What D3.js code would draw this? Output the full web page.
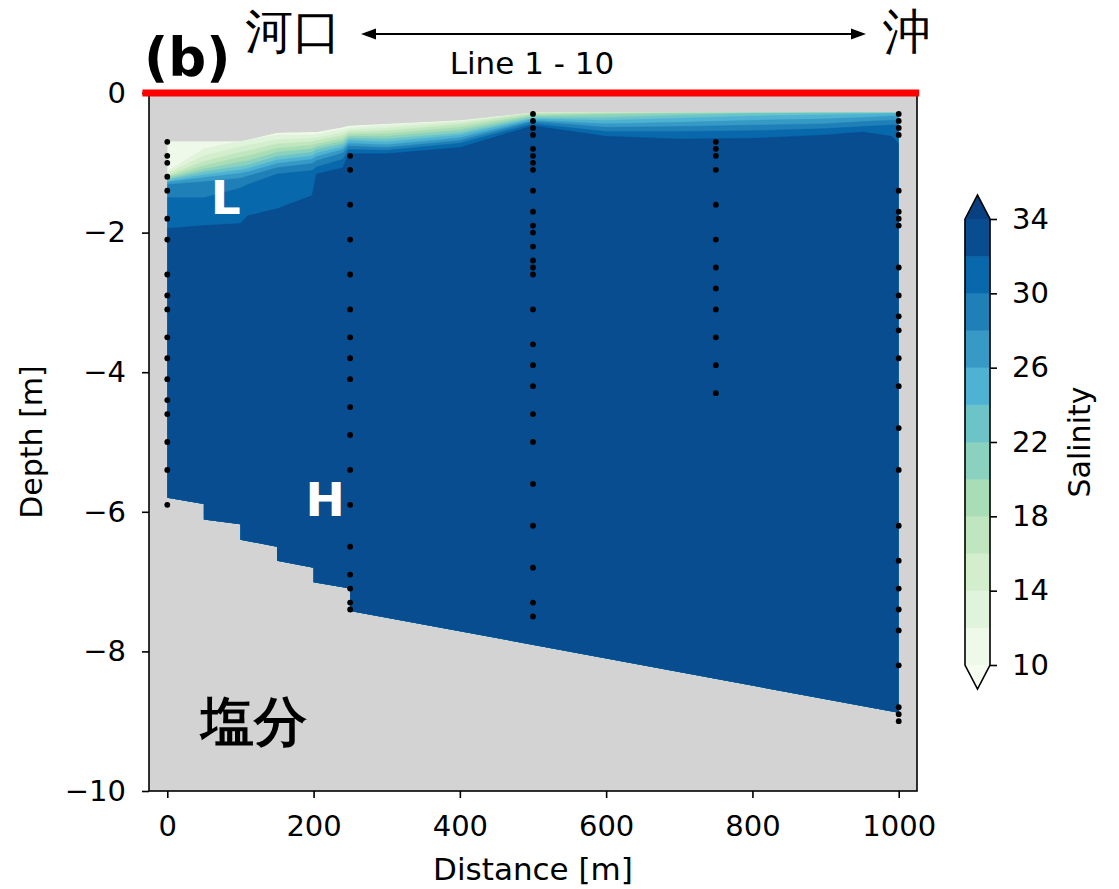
<!DOCTYPE html>
<html>
<head>
<meta charset="utf-8">
<script src="https://cdn.jsdelivr.net/npm/d3@7"></script>
<style>
  body { margin: 0; background: #fff; }
  svg { display: block; }
  text { font-family: "DejaVu Sans", sans-serif; }
</style>
</head>
<body>
<svg id="chart" width="1119" height="889"></svg>
<script>
// ---- Survey stations (distance along Line 1 - 10, m) and sampling depths (m) ----
const stationX = [0, 250, 500, 750, 1000];
const depthsAt0 = [-0.7, -0.9, -1.0, -1.2, -1.4, -1.8, -2.1, -2.6, -2.9, -3.1, -3.5, -3.8, -4.1, -4.4, -4.6, -5.0, -5.4, -5.9];
const depthsAt250 = [-0.9, -1.1, -1.6, -2.1, -2.6, -3.1, -3.5, -3.8, -4.1, -4.5, -4.9, -5.4, -5.9, -6.5, -6.9, -7.1, -7.3, -7.4];
const depthsAt500 = [-0.3, -0.4, -0.5, -0.6, -0.8, -0.9, -1.0, -1.1, -1.4, -1.7, -1.9, -2.0, -2.2, -2.4, -2.5, -2.6, -3.1, -3.6, -3.9, -4.2, -4.6, -5.0, -5.6, -6.2, -6.8, -7.3, -7.5];
const depthsAt750 = [-0.7, -0.8, -0.9, -1.1, -1.6, -2.1, -2.5, -2.8, -3.1, -3.5, -3.9, -4.3];
const depthsAt1000 = [-0.3, -0.4, -0.5, -0.6, -1.4, -1.7, -1.8, -1.9, -2.5, -2.9, -3.2, -3.4, -3.8, -4.2, -4.8, -5.4, -6.2, -6.7, -7.1, -7.4, -7.7, -8.2, -8.8, -8.9, -9.0];

// ---- Gridded salinity section: columns, upper edge and isohaline depths (m) ----
const gridX   = [0, 50, 100, 110, 150, 198, 204, 240, 248, 300, 400, 500, 600, 700, 800, 900, 950, 990, 1000];
const surface = [-0.69, -0.69, -0.69, -0.67, -0.57, -0.56, -0.56, -0.49, -0.47, -0.44, -0.39, -0.28, -0.28, -0.28, -0.28, -0.28, -0.28, -0.28, -0.28];
const iso12 = [-1.12, -0.80, -0.69, -0.67, -0.60, -0.60, -0.59, -0.52, -0.50, -0.46, -0.40, -0.28, -0.28, -0.28, -0.28, -0.28, -0.28, -0.28, -0.28];
const iso14 = [-1.15, -0.90, -0.77, -0.75, -0.67, -0.65, -0.64, -0.57, -0.53, -0.50, -0.42, -0.28, -0.28, -0.28, -0.28, -0.28, -0.28, -0.28, -0.28];
const iso16 = [-1.18, -0.98, -0.85, -0.83, -0.73, -0.70, -0.68, -0.61, -0.56, -0.54, -0.45, -0.29, -0.28, -0.28, -0.28, -0.28, -0.28, -0.28, -0.28];
const iso18 = [-1.20, -1.04, -0.92, -0.90, -0.79, -0.75, -0.73, -0.65, -0.59, -0.58, -0.49, -0.31, -0.29, -0.28, -0.28, -0.28, -0.28, -0.28, -0.28];
const iso20 = [-1.22, -1.09, -0.99, -0.97, -0.85, -0.80, -0.77, -0.69, -0.62, -0.62, -0.53, -0.33, -0.31, -0.29, -0.28, -0.28, -0.28, -0.28, -0.28];
const iso22 = [-1.24, -1.13, -1.05, -1.03, -0.91, -0.85, -0.81, -0.73, -0.65, -0.66, -0.57, -0.35, -0.35, -0.32, -0.29, -0.28, -0.28, -0.28, -0.28];
const iso24 = [-1.26, -1.17, -1.10, -1.08, -0.96, -0.90, -0.86, -0.77, -0.68, -0.70, -0.60, -0.37, -0.39, -0.36, -0.33, -0.31, -0.30, -0.29, -0.29];
const iso26 = [-1.28, -1.21, -1.15, -1.13, -1.01, -0.95, -0.91, -0.81, -0.72, -0.74, -0.64, -0.39, -0.44, -0.42, -0.39, -0.37, -0.35, -0.33, -0.33];
const iso28 = [-1.31, -1.27, -1.22, -1.19, -1.07, -1.01, -0.97, -0.86, -0.76, -0.78, -0.68, -0.41, -0.49, -0.48, -0.46, -0.44, -0.41, -0.39, -0.39];
const iso30 = [-1.50, -1.50, -1.36, -1.31, -1.16, -1.11, -1.06, -0.95, -0.81, -0.82, -0.72, -0.44, -0.55, -0.55, -0.54, -0.51, -0.48, -0.46, -0.46];
const iso32 = [-1.94, -1.90, -1.87, -1.76, -1.66, -1.47, -1.16, -1.07, -0.87, -0.87, -0.78, -0.47, -0.62, -0.66, -0.65, -0.60, -0.56, -0.62, -0.72];

// ---- Bed profile under the section (m) ----
const bedX     = [0, 50, 50, 100, 100, 150, 150, 200, 200, 250, 250, 1000];
const bedDepth = [-5.80, -5.89, -6.11, -6.18, -6.40, -6.50, -6.70, -6.80, -7.01, -7.10, -7.42, -8.88];

// ---- Contour levels, ticks ----
const levels = [10, 12, 14, 16, 18, 20, 22, 24, 26, 28, 30, 32, 34];
const colorbarTicks = [10, 14, 18, 22, 26, 30, 34];
const xTicks = [0, 200, 400, 600, 800, 1000];
const yTicks = [0, -2, -4, -6, -8, -10];
const surfaceLineX = [-34, 1028];

// Annotations placed in data coordinates
const layerLabels = [
  { text: "L", x: 80, y: -1.5 },
  { text: "H", x: 216, y: -5.83 }
];
const panelNote = { text: "塩分", x: 118, y: -9.0 };

// ---- GnBu colour map ----
const gnbuStops = ["#f7fcf0", "#e0f3db", "#ccebc5", "#a8ddb5", "#7bccc4", "#4eb3d3", "#2b8cbe", "#0868ac", "#084081"];
const cmap = d3.scaleLinear()
  .domain(gnbuStops.map((_, i) => i / (gnbuStops.length - 1)))
  .range(gnbuStops)
  .interpolate(d3.interpolateRgb);
const nBands = levels.length - 1;
const bandColor = k => cmap((k + 0.5) / nBands);

// ---- Scales ----
const svg = d3.select("#chart");
const x = d3.scaleLinear().domain([-25, 1025]).range([149, 917]);
const y = d3.scaleLinear().domain([-10, 0]).range([791, 93]);

// Axes background
svg.append("rect")
  .attr("x", x(-25)).attr("y", y(0))
  .attr("width", x(1025) - x(-25)).attr("height", y(-10) - y(0))
  .attr("fill", "#d3d3d3");

// Clip region: upper edge of the section down to the bed
const sectionOutline = gridX.map((gx, i) => [x(gx), y(surface[i])])
  .concat(bedX.map((bx, i) => [x(bx), y(bedDepth[i])]).reverse());
svg.append("defs").append("clipPath").attr("id", "section")
  .append("path").attr("d", d3.line()(sectionOutline) + "Z");

// Filled salinity bands, lowest level first
const isoLines = [surface, iso12, iso14, iso16, iso18, iso20, iso22, iso24, iso26, iso28, iso30, iso32];
const bands = svg.append("g").attr("clip-path", "url(#section)");
isoLines.forEach((line, k) => {
  const area = d3.area()
    .x((d, i) => x(gridX[i]))
    .y0(y(-10))
    .y1((d, i) => y(Math.min(surface[i], line[i])));
  bands.append("path")
    .attr("d", area(line))
    .attr("fill", bandColor(k))
    .attr("stroke", bandColor(k))
    .attr("stroke-width", 0.4);
});

// Sampling points
const samples = [depthsAt0, depthsAt250, depthsAt500, depthsAt750, depthsAt1000]
  .flatMap((ds, s) => ds.map(d => ({ x: stationX[s], d })));
svg.append("g").selectAll("circle")
  .data(samples).join("circle")
  .attr("cx", p => x(p.x)).attr("cy", p => y(p.d))
  .attr("r", 2.9).attr("fill", "#000");

// Layer labels
svg.append("g").selectAll("text")
  .data(layerLabels).join("text")
  .attr("x", p => x(p.x)).attr("y", p => y(p.y))
  .attr("text-anchor", "middle").attr("dominant-baseline", "central")
  .attr("font-weight", "bold").attr("font-size", 47).attr("fill", "#fff")
  .text(p => p.text);
svg.append("text")
  .attr("x", x(panelNote.x)).attr("y", y(panelNote.y))
  .attr("text-anchor", "middle").attr("dominant-baseline", "central")
  .attr("font-family", "'Noto Sans CJK JP', sans-serif")
  .attr("font-weight", "bold").attr("font-size", 53).attr("fill", "#000")
  .text(panelNote.text);

// ---- Axes ----
const fmt = d3.format("d");
const xAxis = svg.append("g").attr("transform", `translate(0,${y(-10)})`)
  .call(d3.axisBottom(x).tickValues(xTicks).tickFormat(fmt).tickSize(7).tickPadding(17).tickSizeOuter(0));
const yAxis = svg.append("g").attr("transform", `translate(${x(-25)},0)`)
  .call(d3.axisLeft(y).tickValues(yTicks).tickFormat(fmt).tickSize(7).tickPadding(16).tickSizeOuter(0));
[xAxis, yAxis].forEach(a => {
  a.select(".domain").remove();
  a.selectAll(".tick line").attr("stroke", "#000").attr("stroke-width", 1.6);
  a.selectAll(".tick text").attr("font-size", 29).attr("fill", "#000")
    .attr("font-family", "'DejaVu Sans', sans-serif");
});
// Frame
svg.append("rect")
  .attr("x", x(-25)).attr("y", y(0))
  .attr("width", x(1025) - x(-25)).attr("height", y(-10) - y(0))
  .attr("fill", "none").attr("stroke", "#000").attr("stroke-width", 1.6);

// Water surface line
svg.append("line")
  .attr("x1", x(surfaceLineX[0])).attr("x2", x(surfaceLineX[1]))
  .attr("y1", y(0)).attr("y2", y(0))
  .attr("stroke", "#ff0000").attr("stroke-width", 7);

// Axis titles
svg.append("text").attr("x", (x(-25) + x(1025)) / 2).attr("y", 880)
  .attr("text-anchor", "middle").attr("font-size", 31).text("Distance [m]");
svg.append("text").attr("transform", `translate(42,${(y(0) + y(-10)) / 2}) rotate(-90)`)
  .attr("text-anchor", "middle").attr("font-size", 30).text("Depth [m]");

// ---- Colour bar ----
const cbX0 = 965, cbW = 25;
const cb = d3.scaleLinear().domain([10, 34]).range([665, 219]);
const cbG = svg.append("g");
d3.range(nBands).forEach(k => {
  cbG.append("rect")
    .attr("x", cbX0).attr("y", cb(levels[k + 1]))
    .attr("width", cbW).attr("height", cb(levels[k]) - cb(levels[k + 1]))
    .attr("fill", bandColor(k)).attr("stroke", bandColor(k)).attr("stroke-width", 0.5);
});
const triH = 24;
cbG.append("path")
  .attr("d", `M${cbX0},${cb(34)} L${cbX0 + cbW / 2},${cb(34) - triH} L${cbX0 + cbW},${cb(34)} Z`)
  .attr("fill", cmap(1));
cbG.append("path")
  .attr("d", `M${cbX0},${cb(10)} L${cbX0 + cbW / 2},${cb(10) + triH} L${cbX0 + cbW},${cb(10)} Z`)
  .attr("fill", cmap(0));
cbG.append("path")
  .attr("d", `M${cbX0},${cb(34)} L${cbX0 + cbW / 2},${cb(34) - triH} L${cbX0 + cbW},${cb(34)} L${cbX0 + cbW},${cb(10)} L${cbX0 + cbW / 2},${cb(10) + triH} L${cbX0},${cb(10)} Z`)
  .attr("fill", "none").attr("stroke", "#000").attr("stroke-width", 1.6);
const cbAxis = svg.append("g").attr("transform", `translate(${cbX0 + cbW},0)`)
  .call(d3.axisRight(cb).tickValues(colorbarTicks).tickFormat(fmt).tickSize(7).tickPadding(15).tickSizeOuter(0));
cbAxis.select(".domain").remove();
cbAxis.selectAll(".tick line").attr("stroke", "#000").attr("stroke-width", 1.6);
cbAxis.selectAll(".tick text").attr("font-size", 29).attr("fill", "#000");
svg.append("text").attr("transform", `translate(1090,${(cb(10) + cb(34)) / 2}) rotate(-90)`)
  .attr("text-anchor", "middle").attr("font-size", 30).text("Salinity");

// ---- Header: panel tag, direction arrow ----
svg.append("text").attr("x", 144).attr("y", 76)
  .attr("font-weight", "bold").attr("font-size", 53).text("(b)");
svg.append("text").attr("x", 293).attr("y", 48).attr("text-anchor", "middle")
  .attr("font-family", "'Noto Sans CJK JP', sans-serif").attr("font-size", 48).text("河口");
svg.append("text").attr("x", 907).attr("y", 48).attr("text-anchor", "middle")
  .attr("font-family", "'Noto Sans CJK JP', sans-serif").attr("font-size", 48).text("沖");
const arrowY = 34, ax0 = 361, ax1 = 866, headL = 15, headW = 5.5;
svg.append("line").attr("x1", ax0 + 4).attr("x2", ax1 - 4).attr("y1", arrowY).attr("y2", arrowY)
  .attr("stroke", "#000").attr("stroke-width", 1.8);
svg.append("path").attr("d", `M${ax0},${arrowY} L${ax0 + headL},${arrowY - headW} L${ax0 + headL},${arrowY + headW} Z`);
svg.append("path").attr("d", `M${ax1},${arrowY} L${ax1 - headL},${arrowY - headW} L${ax1 - headL},${arrowY + headW} Z`);
svg.append("text").attr("x", 532).attr("y", 74).attr("text-anchor", "middle")
  .attr("font-size", 31).text("Line 1 - 10");
</script>
</body>
</html>
